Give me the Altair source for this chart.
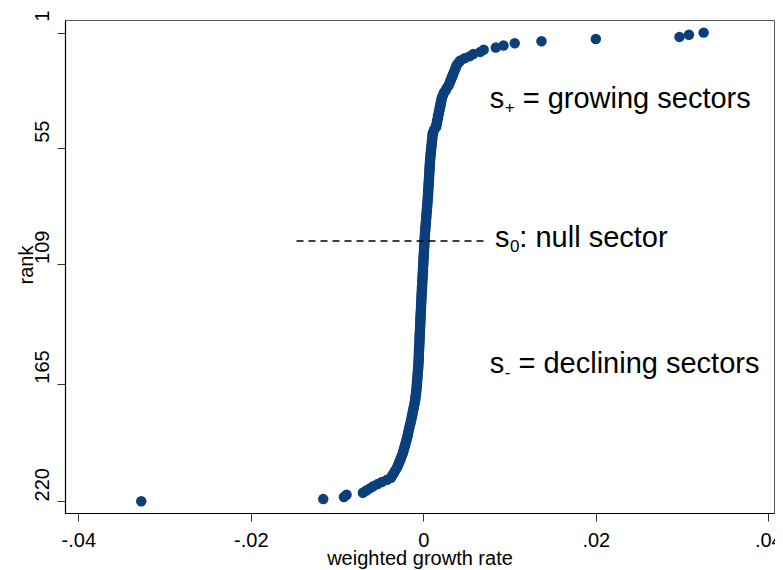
import altair as alt
import pandas as pd

# weighted growth rate of each sector, sorted from rank 1 (highest) to rank 220 (lowest)
growth_top = [0.0325, 0.0308, 0.0297, 0.0200, 0.0137, 0.0106, 0.0093, 0.0084, 0.0070, 0.0066,
              0.0058, 0.0054, 0.0048, 0.0043]
growth_upper = [0.0041, 0.0039, 0.0038, 0.0037, 0.0036, 0.0035, 0.0034, 0.0033, 0.0032, 0.0031,
                0.0030, 0.0029, 0.0027, 0.0026, 0.0024, 0.0023, 0.0022, 0.0021,
                0.0021, 0.0020, 0.0020, 0.0019, 0.0019, 0.0018, 0.0018, 0.0017, 0.0017, 0.0016,
                0.0016, 0.0015, 0.0015,
                0.0013, 0.0012, 0.0011, 0.00108, 0.00105, 0.00102, 0.00100, 0.00097, 0.00095,
                0.00092, 0.00090, 0.00087, 0.00085, 0.00082, 0.00080]
growth_mid_pos = [0.00078, 0.00077, 0.00075, 0.00074, 0.00072, 0.00071, 0.00069, 0.00068, 0.00066,
                  0.00065, 0.00063, 0.00062, 0.00060, 0.00059, 0.00057, 0.00056, 0.00054, 0.00053,
                  0.00051,
                  0.00049, 0.00047, 0.00045, 0.00043, 0.00041, 0.00039, 0.00037, 0.00035, 0.00033,
                  0.00031, 0.00029, 0.00027, 0.00025, 0.00023, 0.00021, 0.00019]
growth_mid_zero = [0.00018, 0.00016, 0.00015, 0.00014, 0.00012, 0.00011, 0.00010, 0.00008, 0.00007,
                   0.00005, 0.00004, 0.00003, 0.00001, 0.00000, -0.00001, -0.00003, -0.00004,
                   -0.00005, -0.00007, -0.00008, -0.00009, -0.00011, -0.00012, -0.00013, -0.00015,
                   -0.00016, -0.00017, -0.00019, -0.00020, -0.00021, -0.00023]
growth_mid_neg = [-0.00024, -0.00025, -0.00026, -0.00027, -0.00028, -0.00030, -0.00031, -0.00032,
                  -0.00033, -0.00034, -0.00035, -0.00036, -0.00037, -0.00039, -0.00040, -0.00041,
                  -0.00042, -0.00043, -0.00044, -0.00045, -0.00046, -0.00048, -0.00049, -0.00050,
                  -0.00051, -0.00052, -0.00053, -0.00054, -0.00055, -0.00057, -0.00058]
growth_lower = [-0.00060, -0.00062, -0.00064, -0.00066, -0.00068, -0.00070, -0.00072, -0.00074,
                -0.00076, -0.00078, -0.00080, -0.00083, -0.00086, -0.00089, -0.00092, -0.00096,
                -0.00100, -0.00105, -0.00110, -0.00115, -0.00120, -0.00125, -0.00130, -0.00135,
                -0.00140,
                -0.00146, -0.00152, -0.00158, -0.00164, -0.00170, -0.00175, -0.00180, -0.00185,
                -0.00192, -0.00199, -0.00206, -0.00213, -0.00220, -0.00227, -0.00234, -0.00241,
                -0.00251, -0.00261, -0.00271, -0.00281, -0.00291, -0.00301,
                -0.00315, -0.00330, -0.00345, -0.00360, -0.00375]
growth_bottom = [-0.0042, -0.0048, -0.0053, -0.0058,
                 -0.0062, -0.0066, -0.0070, -0.0089, -0.0092, -0.0116, -0.0327]

growth = (growth_top + growth_upper + growth_mid_pos + growth_mid_zero + growth_mid_neg
          + growth_lower + growth_bottom)
rank = list(range(1, len(growth) + 1))

y_ticks = [1, 55, 109, 165, 220]
x_ticks = [-0.04, -0.02, 0.0, 0.02, 0.04]
x_tick_labels = ["-.04", "-.02", "0", ".02", ".04"]

# annotations: base letter, subscript, remainder of the label
ann_base = ["s", "s", "s"]
ann_sub = ["+", "0", "-"]
ann_rest = [" = growing sectors", ": null sector", " = declining sectors"]
ann_x = [0.0077, 0.0083, 0.0077]
ann_rank = [36.2, 101.1, 160.2]

null_rank = [98.4]
null_x_start = [-0.0147]
null_x_end = [0.0072]

BLUE = "#0b3f7c"
FONT = "Liberation Sans"
BIG = 29
SMALL = 17
# approximate advance widths (em) of the Arial-metric glyphs used in subscripts
SUB_ADV = {"+": 0.584, "0": 0.556, "-": 0.333}
SPACE_ADV = 0.278

df = pd.DataFrame({"growth": growth, "rank": rank})
rule_df = pd.DataFrame({"rank": null_rank, "growth": null_x_start, "x1": null_x_end})

label_expr = ""
for v, lab in zip(x_ticks, x_tick_labels):
    label_expr += f"abs(datum.value - ({v})) < 0.001 ? '{lab}' : "
label_expr += "''"

xscale = alt.Scale(domain=[-0.04154, 0.04066], nice=False, zero=False)
yscale = alt.Scale(domain=[-4.9, 225.5], reverse=True, nice=False, zero=False)

x_axis = alt.Axis(values=x_ticks, labelExpr=label_expr, title="weighted growth rate",
                  labelBaseline="alphabetic", labelPadding=25, labelFlush=False,
                  labelOverlap=False, titleBaseline="alphabetic", titleY=51)
y_axis = alt.Axis(values=y_ticks, title="rank", labelAngle=270, labelAlign="center",
                  labelBaseline="alphabetic", labelPadding=8.5, labelOffset=-17,
                  labelOverlap=False, labelFlush=False,
                  titleAngle=270, titleAlign="center", titleBaseline="alphabetic",
                  titleX=-33, titleY=244.5)

points = alt.Chart(df).mark_circle(size=110, color=BLUE, opacity=1).encode(
    x=alt.X("growth:Q", scale=xscale, axis=x_axis),
    y=alt.Y("rank:Q", scale=yscale, axis=y_axis),
)

rule = alt.Chart(rule_df).mark_rule(strokeDash=[7, 5], strokeWidth=1.5, color="black").encode(
    x=alt.X("growth:Q", scale=xscale, axis=x_axis),
    x2="x1:Q",
    y=alt.Y("rank:Q", scale=yscale, axis=y_axis),
)

layers = [points, rule]
base_adv = 0.5 * BIG
for b, s, r, ax, ar in zip(ann_base, ann_sub, ann_rest, ann_x, ann_rank):
    lead = SPACE_ADV * BIG if r.startswith(" ") else 0.0
    row = pd.DataFrame({"growth": [ax], "rank": [ar], "b": [b], "s": [s], "r": [r.strip()]})
    enc = dict(x=alt.X("growth:Q", scale=xscale, axis=x_axis),
               y=alt.Y("rank:Q", scale=yscale, axis=y_axis))
    layers.append(alt.Chart(row).mark_text(align="left", baseline="alphabetic", fontSize=BIG,
                                           font=FONT, color="black").encode(text="b:N", **enc))
    layers.append(alt.Chart(row).mark_text(align="left", baseline="alphabetic", fontSize=SMALL,
                                           font=FONT, color="black", dx=base_adv + 0.5,
                                           dy=5).encode(text="s:N", **enc))
    layers.append(alt.Chart(row).mark_text(align="left", baseline="alphabetic", fontSize=BIG,
                                           font=FONT, color="black",
                                           dx=base_adv + 0.5 + SUB_ADV[s] * SMALL + lead).encode(
        text="r:N", **enc))

chart = alt.layer(*layers).properties(
    width=709, height=493,
    padding={"left": 57, "top": 12, "right": 1, "bottom": 57},
    autosize=alt.AutoSizeParams(type="none"),
    background="white",
).configure_view(
    stroke="#555555", strokeWidth=1
).configure_axis(
    grid=False, domainColor="black", domainWidth=1.2,
    tickColor="#333333", tickSize=8, tickWidth=1,
    labelFont=FONT, labelFontSize=20, labelColor="black",
    titleFont=FONT, titleFontSize=20, titleFontWeight="normal", titleColor="black",
)

chart.save("out.html", embed_options={"renderer": "svg", "actions": False})
